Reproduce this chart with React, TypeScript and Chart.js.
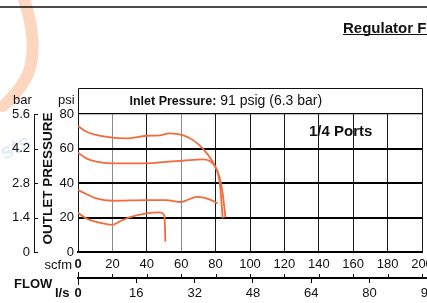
import React, { useEffect, useRef } from 'react';
import { Chart, registerables } from 'chart.js';

Chart.register(...registerables);

const FAMILY = "'Liberation Sans', Arial, Helvetica, sans-serif";
const ORANGE = '#F26B3A';

// Axis ticks
const scfmTicks = [0, 20, 40, 60, 80, 100, 120, 140, 160, 180, 200];
const lpsTicks = [0, 16, 32, 48, 64, 80, 96];
const psiTicks = [0, 20, 40, 60, 80];
const barTicks = [0, 1.4, 2.8, 4.2, 5.6];
const SCFM_PER_LPS = 2.119;

// Curves: flow (scfm) vs outlet pressure (psi)
const curve1Flow = [0, 4.8, 8.6, 19.9, 28, 40, 47.4, 53.2, 60.9, 66.7, 72.5, 78.3, 82.2, 84.1, 85.7];
const curve1Psi = [73, 69.7, 68.4, 66.3, 65.9, 67.4, 67.6, 68.8, 67.8, 65, 60.1, 52.3, 43.6, 34, 20.1];

const curve2Flow = [0, 4.8, 10.6, 19.9, 40, 51.2, 60.9, 72.5, 76.4, 80.3, 82.2, 83.2, 84.1];
const curve2Psi = [57.6, 54.3, 52.4, 51.4, 51.4, 52.3, 52.9, 53.7, 52.9, 48.5, 41.7, 32, 19.5];

const curve3Flow = [0, 4.8, 10.6, 19.9, 40, 51.2, 60, 64, 69, 73, 77.4, 81.2];
const curve3Psi = [35.9, 33.6, 31.1, 29.7, 30.1, 30.1, 29, 30.3, 32, 31.5, 30.1, 28.2];

const curve4Flow = [0, 4.8, 12.5, 19.9, 24.1, 29.9, 40, 47.4, 49.7, 50.4, 50.8];
const curve4Psi = [22.8, 19.5, 17, 15.7, 17.6, 20.1, 22.4, 23, 22, 18.6, 6];

const curves = [
  { flow: curve1Flow, psi: curve1Psi },
  { flow: curve2Flow, psi: curve2Psi },
  { flow: curve3Flow, psi: curve3Psi },
  { flow: curve4Flow, psi: curve4Psi },
];

const font = (size: number, weight: string = 'normal') => `${weight} ${size}px ${FAMILY}`;

const decor = {
  id: 'decor',
  beforeDraw(chart: any) {
    const ctx = chart.ctx;
    ctx.save();
    ctx.strokeStyle = 'rgba(250,165,115,0.45)';
    ctx.lineWidth = 12;
    ctx.lineCap = 'round';
    ctx.beginPath();
    ctx.moveTo(22, -6);
    ctx.bezierCurveTo(34, 25, 37, 60, 25, 80);
    ctx.quadraticCurveTo(16, 95, 3, 106);
    ctx.stroke();
    ctx.translate(16, 148);
    ctx.rotate(-0.45);
    ctx.fillStyle = 'rgba(170,200,230,0.35)';
    ctx.font = font(22, 'bold');
    ctx.textAlign = 'center';
    ctx.textBaseline = 'middle';
    ctx.fillText('sts', 0, 0);
    ctx.restore();
  },
  afterDraw(chart: any) {
    const { ctx, chartArea: ca, scales } = chart;
    ctx.save();
    ctx.fillStyle = '#111';
    ctx.strokeStyle = '#111';

    // top rule
    ctx.lineWidth = 1.5;
    ctx.beginPath();
    ctx.moveTo(0, 7);
    ctx.lineTo(427, 7);
    ctx.stroke();

    // Regulator F heading
    ctx.font = font(15, 'bold');
    ctx.textAlign = 'left';
    ctx.textBaseline = 'alphabetic';
    ctx.fillText('Regulator Flow', 343, 32.5);
    ctx.lineWidth = 1.2;
    ctx.beginPath();
    ctx.moveTo(343, 34.5);
    ctx.lineTo(427, 34.5);
    ctx.stroke();

    // title box
    ctx.lineWidth = 1;
    ctx.beginPath();
    ctx.moveTo(ca.left + 0.5, ca.top);
    ctx.lineTo(ca.left + 0.5, 88.5);
    ctx.lineTo(ca.right + 0.5, 88.5);
    ctx.lineTo(ca.right + 0.5, ca.top);
    ctx.stroke();

    ctx.textBaseline = 'middle';
    ctx.font = font(12.5, 'bold');
    const t1 = 'Inlet Pressure:';
    ctx.fillText(t1, 129.5, 101.5);
    const w1 = ctx.measureText(t1).width;
    ctx.font = font(14);
    ctx.fillText(' 91 psig (6.3 bar)', 129.5 + w1, 101.5);

    // 1/4 Ports
    ctx.font = font(15, 'bold');
    ctx.fillText('1/4 Ports', 309, 131.5);

    // unit labels
    ctx.font = font(13);
    ctx.textBaseline = 'alphabetic';
    ctx.fillText('bar', 13, 103.5);
    ctx.fillText('psi', 58, 103.5);

    // bar axis line with inward ticks
    const bar = scales.bar;
    ctx.lineWidth = 1;
    ctx.beginPath();
    ctx.moveTo(34.5, bar.getPixelForValue(barTicks[barTicks.length - 1]));
    ctx.lineTo(34.5, bar.getPixelForValue(0));
    barTicks.forEach((v) => {
      const y = Math.round(bar.getPixelForValue(v)) + 0.5;
      ctx.moveTo(34, y);
      ctx.lineTo(38, y);
    });
    ctx.stroke();

    // OUTLET PRESSURE
    ctx.save();
    ctx.translate(48.5, 178.5);
    ctx.rotate(-Math.PI / 2);
    ctx.font = font(13.5, 'bold');
    ctx.textAlign = 'center';
    ctx.textBaseline = 'middle';
    ctx.fillText('OUTLET PRESSURE', 0, 0);
    ctx.restore();

    // flow axis labels
    ctx.textBaseline = 'middle';
    ctx.font = font(13);
    ctx.textAlign = 'right';
    ctx.fillText('scfm', 72, 265);
    ctx.textAlign = 'left';
    ctx.font = font(13, 'bold');
    ctx.fillText('FLOW', 14, 284);
    ctx.fillText('l/s', 55, 293.5);

    // scfm ticks above the l/s line, end cap and line extension
    const x = scales.x;
    const lps = scales.lps;
    const ly = lps.top;
    ctx.lineWidth = 1;
    ctx.beginPath();
    scfmTicks.forEach((v) => {
      if (v === 0) return;
      const px = Math.round(x.getPixelForValue(v)) + 0.5;
      ctx.moveTo(px, ly - 4);
      ctx.lineTo(px, ly);
    });
    const x0 = Math.round(x.getPixelForValue(0)) + 0.5;
    ctx.moveTo(x0, ly - 6);
    ctx.lineTo(x0, ly + 7);
    ctx.stroke();
    ctx.lineWidth = 2;
    ctx.beginPath();
    ctx.moveTo(ca.right, ly);
    ctx.lineTo(427, ly);
    ctx.stroke();

    ctx.restore();
  },
};

export default function App() {
  const ref = useRef<HTMLCanvasElement>(null);

  useEffect(() => {
    document.body.style.margin = '0';
    const canvas = ref.current;
    if (!canvas) return;

    const tickFont = (ctx: any) => ({
      family: FAMILY,
      size: 13,
      weight: ctx && ctx.tick && ctx.tick.value === 0 ? 'bold' : 'normal',
    });

    const chart = new Chart(canvas, {
      type: 'line',
      data: {
        datasets: curves.map((c) => ({
          data: c.flow.map((f, i) => ({ x: f, y: c.psi[i] })),
          borderColor: ORANGE,
          borderWidth: 1.8,
          pointRadius: 0,
          fill: false,
          cubicInterpolationMode: 'monotone' as const,
          xAxisID: 'x',
          yAxisID: 'y',
        })),
      },
      options: {
        responsive: false,
        animation: false,
        devicePixelRatio: 1,
        events: [],
        layout: { padding: { top: 114, right: 5, left: 0, bottom: 0 } },
        plugins: {
          legend: { display: false },
          tooltip: { enabled: false },
          title: { display: false },
        },
        scales: {
          x: {
            type: 'linear',
            position: 'bottom',
            min: 0,
            max: 200,
            weight: 0,
            afterBuildTicks: (s: any) => {
              s.ticks = scfmTicks.map((v) => ({ value: v }));
            },
            afterFit: (s: any) => {
              s.height = 26;
              s.paddingLeft = 0;
              s.paddingRight = 0;
            },
            grid: {
              color: (ctx: any) =>
                ctx.tick && (ctx.tick.value === 20 || ctx.tick.value === 60) ? '#8a8a8a' : '#1a1a1a',
              lineWidth: 1,
              drawTicks: false,
            },
            border: { color: '#000', width: 2 },
            ticks: {
              padding: 5,
              color: '#111',
              font: tickFont as any,
              maxRotation: 0,
              autoSkip: false,
            },
          },
          lps: {
            type: 'linear',
            position: 'bottom',
            min: 0,
            max: 200 / SCFM_PER_LPS,
            weight: 1,
            afterBuildTicks: (s: any) => {
              s.ticks = lpsTicks.map((v) => ({ value: v }));
            },
            afterFit: (s: any) => {
              s.height = 25;
              s.paddingLeft = 0;
              s.paddingRight = 0;
            },
            grid: {
              drawOnChartArea: false,
              drawTicks: true,
              tickLength: 5,
              color: '#000',
              lineWidth: 1,
            },
            border: { color: '#000', width: 2 },
            ticks: {
              padding: 3,
              color: '#111',
              font: tickFont as any,
              maxRotation: 0,
              autoSkip: false,
            },
          },
          y: {
            type: 'linear',
            position: 'left',
            min: 0,
            max: 80,
            weight: 0,
            afterBuildTicks: (s: any) => {
              s.ticks = psiTicks.map((v) => ({ value: v }));
            },
            afterFit: (s: any) => {
              s.width = 42;
              s.paddingTop = 0;
              s.paddingBottom = 0;
            },
            grid: {
              color: '#000',
              lineWidth: (ctx: any) => (ctx.tick && ctx.tick.value === 80 ? 1.3 : 2),
              drawTicks: false,
            },
            border: { color: '#111', width: 1 },
            ticks: {
              padding: 4,
              color: '#111',
              font: { family: FAMILY, size: 13 },
              autoSkip: false,
            },
          },
          bar: {
            type: 'linear',
            position: 'left',
            min: 0,
            max: 5.6,
            weight: 1,
            afterBuildTicks: (s: any) => {
              s.ticks = barTicks.map((v) => ({ value: v }));
            },
            afterFit: (s: any) => {
              s.width = 36;
              s.paddingTop = 0;
              s.paddingBottom = 0;
            },
            grid: { display: false, drawTicks: false },
            border: { display: false },
            ticks: {
              padding: 6,
              color: '#111',
              font: { family: FAMILY, size: 13 },
              autoSkip: false,
              callback: (v: any) => (Number(v) === 0 ? '0' : Number(v).toFixed(1)),
            },
          },
        } as any,
      },
      plugins: [decor],
    });

    return () => chart.destroy();
  }, []);

  return (
    <div style={{ width: 427, height: 303, overflow: 'hidden', background: '#fff' }}>
      <canvas ref={ref} width={427} height={303} style={{ display: 'block', width: 427, height: 303 }} />
    </div>
  );
}
